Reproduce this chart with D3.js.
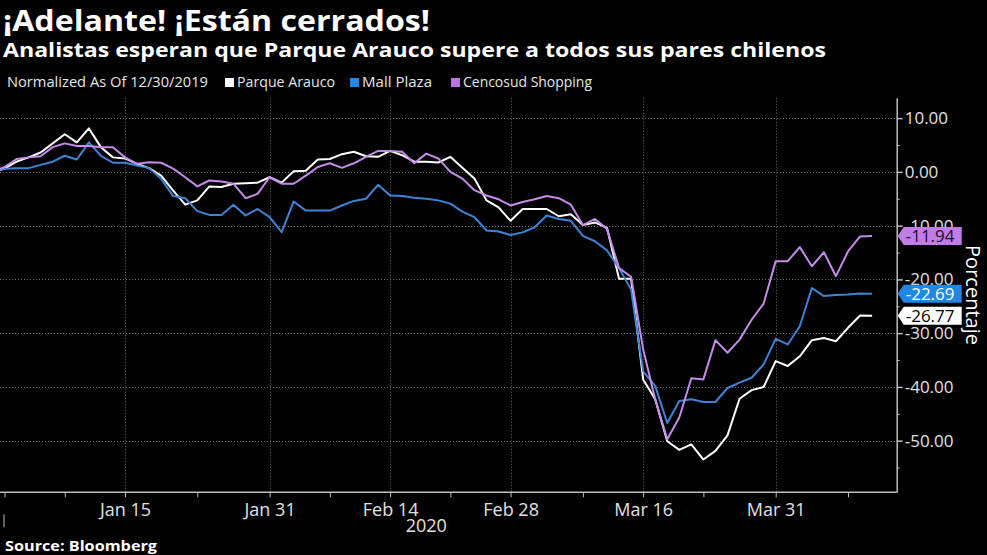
<!DOCTYPE html>
<html>
<head>
<meta charset="utf-8">
<script src="https://cdnjs.cloudflare.com/ajax/libs/d3/7.8.5/d3.min.js"></script>
<style>
  html, body { margin: 0; padding: 0; background: #000; }
  svg { display: block; font-family: "Open Sans", sans-serif; }
</style>
</head>
<body>
<div id="chart"></div>
<script>
// trading days shown on the chart (weekdays, Jan 1 closed)
const firstDay = "2019-12-30";
const lastDay = "2020-04-10";
const holidays = ["2020-01-01"];

const seriesNames = ["Parque Arauco", "Mall Plaza", "Cencosud Shopping"];

// percent change, normalized as of 12/30/2019
const parqueArauco = [
  0, 0.6, 1.9, 2.7, 3.6, 5.3, 7.0, 5.5, 8.1, 4.6,
  2.7, 2.5, 1.5, 0.7, -0.7, -3.5, -6.1, -5.3, -2.7, -2.8,
  -2.2, -2.1, -2.0, -1.0, -2.0, 0.1, 0.2, 2.3, 2.4, 3.3,
  3.75, 2.9, 2.8, 3.9, 3.1, 1.9, 1.9, 1.75, 2.8, 0.75,
  -1.25, -5.3, -6.6, -9.1, -6.9, -6.9, -6.9, -8.25, -7.9, -9.9,
  -9.4, -10.4, -19.9, -19.9, -38.6, -42.3, -50.1, -51.7, -50.7, -53.5,
  -51.9, -49.0, -42.2, -40.6, -40.0, -35.2, -36.1, -34.3, -31.3, -30.9,
  -31.5, -29.0, -26.7, -26.77
];
const mallPlaza = [
  0, 0.6, 0.7, 0.7, 1.3, 1.9, 3.0, 2.3, 5.5, 3.0,
  1.7, 1.7, 1.2, 0.7, -1.3, -4.5, -4.9, -7.3, -8.0, -8.0,
  -6.1, -8.1, -6.9, -8.4, -11.2, -5.5, -7.2, -7.2, -7.2, -6.25,
  -5.4, -5.0, -2.4, -4.4, -4.5, -4.8, -5.0, -5.3, -5.9, -7.4,
  -8.4, -10.9, -11.1, -11.75, -11.25, -10.3, -8.1, -8.75, -9.1, -11.9,
  -12.9, -14.6, -17.9, -21.9, -37.1, -39.8, -46.7, -42.6, -42.3, -42.8,
  -42.8, -40.2, -39.2, -38.3, -35.8, -31.05, -32.1, -28.7, -21.6, -23.1,
  -22.9, -22.8, -22.6, -22.69
];
const cencosudShopping = [
  0, 0.9, 2.4, 2.7, 2.9, 4.6, 5.3, 4.8, 4.8, 4.6,
  4.6, 2.7, 1.5, 1.8, 1.7, 0.6, -1.0, -2.7, -1.6, -1.8,
  -2.2, -4.9, -4.1, -1.0, -2.2, -2.2, -0.7, 0.9, 1.6, 0.75,
  1.6, 2.8, 3.9, 3.9, 3.75, 1.6, 3.4, 2.5, 0, -1.25,
  -3.4, -4.4, -5.1, -6.25, -5.6, -5.1, -4.5, -4.9, -6.1, -9.9,
  -8.75, -10.6, -17.9, -19.5, -33.0, -42.3, -49.75, -45.7, -38.4, -38.6,
  -31.3, -33.65, -31.2, -27.5, -24.5, -16.6, -16.6, -14.0, -17.55, -14.95,
  -19.4, -14.8, -12.0, -11.94
];

const xTickDates = ["2020-01-15", "2020-01-31", "2020-02-14", "2020-02-28", "2020-03-16", "2020-03-31"];
const xTickLabels = ["Jan 15", "Jan 31", "Feb 14", "Feb 28", "Mar 16", "Mar 31"];
const xMinorDates = ["2019-12-31", "2020-01-08", "2020-01-23", "2020-02-07", "2020-02-21", "2020-03-09", "2020-03-23", "2020-04-08"];
const yTicks = [10, 0, -10, -20, -30, -40, -50];
const yMinorTicks = [5, -5, -15, -25, -35, -45, -55];

const colors = ["#ffffff", "#3d84d6", "#c48be8"];
const swatch = ["#ffffff", "#2688e3", "#b873e6"];
const tagFill = ["#ffffff", "#1f88e2", "#c07de8"];
const tagText = ["#000000", "#ffffff", "#1b0f24"];

let fmt = d3.timeFormat("%Y-%m-%d");
let days = d3.timeDay.range(d3.timeParse("%Y-%m-%d")(firstDay), d3.timeDay.offset(d3.timeParse("%Y-%m-%d")(lastDay), 1))
  .filter(d => d.getDay() !== 0 && d.getDay() !== 6 && holidays.indexOf(fmt(d)) < 0)
  .map(fmt);

let series = [parqueArauco, mallPlaza, cencosudShopping];

const W = 987, H = 555;
let plot = {left: 0, right: 896.7, top: 97.7, bottom: 492.3};

let svg = d3.select("#chart").append("svg")
  .attr("width", W)
  .attr("height", H);

svg.append("rect").attr("width", W).attr("height", H).attr("fill", "#000");

let x = d3.scalePoint()
  .domain(days)
  .range([-7.55, -7.55 + (days.length - 1) * 12.05]);

let y = d3.scaleLinear()
  .domain([-59.6, 13.8])
  .range([plot.bottom, plot.top]);

// titles
svg.append("text")
  .attr("x", 3).attr("y", 31)
  .attr("fill", "#fff")
  .attr("font-size", 29).attr("font-weight", 700)
  .attr("textLength", 427).attr("lengthAdjust", "spacingAndGlyphs")
  .text("¡Adelante! ¡Están cerrados!");

svg.append("text")
  .attr("x", 3).attr("y", 56.7)
  .attr("fill", "#fff")
  .attr("font-size", 20).attr("font-weight", 700)
  .attr("textLength", 823).attr("lengthAdjust", "spacingAndGlyphs")
  .text("Analistas esperan que Parque Arauco supere a todos sus pares chilenos");

// legend
let legend = svg.append("g").attr("font-size", 15).attr("fill", "#e6e6e6");
legend.append("text").attr("x", 7).attr("y", 87.3)
  .attr("textLength", 201).attr("lengthAdjust", "spacingAndGlyphs")
  .text("Normalized As Of 12/30/2019");
let legendX = [225, 350, 451];
let legendW = [98, 70, 129];
seriesNames.forEach(function(name, i) {
  legend.append("rect")
    .attr("x", legendX[i]).attr("y", 78)
    .attr("width", 9).attr("height", 9)
    .attr("fill", swatch[i]);
  legend.append("text")
    .attr("x", legendX[i] + 12).attr("y", 87.3)
    .attr("textLength", legendW[i]).attr("lengthAdjust", "spacingAndGlyphs")
    .text(name);
});

// grid
let grid = svg.append("g")
  .attr("stroke", "#6a6a6a")
  .attr("stroke-width", 1)
  .attr("stroke-dasharray", "1,2");

grid.selectAll(".hgrid")
  .data(yTicks)
  .enter().append("line")
  .attr("class", "hgrid")
  .attr("x1", plot.left).attr("x2", plot.right)
  .attr("y1", d => Math.round(y(d)) + 0.5).attr("y2", d => Math.round(y(d)) + 0.5);

grid.selectAll(".vgrid")
  .data(xTickDates)
  .enter().append("line")
  .attr("class", "vgrid")
  .attr("x1", d => Math.round(x(d)) + 0.5).attr("x2", d => Math.round(x(d)) + 0.5)
  .attr("y1", plot.top).attr("y2", plot.bottom);

// lines
svg.append("clipPath").attr("id", "clip")
  .append("rect")
  .attr("x", plot.left).attr("y", plot.top)
  .attr("width", plot.right - plot.left).attr("height", plot.bottom - plot.top);

let line = d3.line()
  .x((d, i) => x(days[i]))
  .y(d => y(d));

svg.append("g").attr("clip-path", "url(#clip)")
  .selectAll(".series")
  .data(series)
  .enter().append("path")
  .attr("class", "series")
  .attr("d", d => line(d))
  .attr("fill", "none")
  .attr("stroke", (d, i) => colors[i])
  .attr("stroke-width", 2)
  .attr("stroke-linejoin", "round");

// x axis
let axisColor = "#bdbdbd";
let xAxis_g = svg.append("g")
  .attr("transform", "translate(0," + plot.bottom + ")");

xAxis_g.append("line")
  .attr("x1", plot.left).attr("x2", plot.right)
  .attr("y1", 0).attr("y2", 0)
  .attr("stroke", axisColor).attr("stroke-width", 1.5);

xAxis_g.append("g")
  .call(d3.axisBottom(x).tickValues(xTickDates).tickSize(5)
    .tickFormat((d, i) => xTickLabels[i]))
  .call(g => g.select(".domain").remove())
  .call(g => g.selectAll(".tick line").attr("stroke", axisColor))
  .call(g => g.selectAll(".tick text")
    .attr("fill", "#e0e0e0").attr("font-size", 18)
    .attr("font-family", "'Open Sans', sans-serif").attr("dy", "0.9em"));

xAxis_g.append("g")
  .call(d3.axisBottom(x).tickValues(xMinorDates).tickSize(5).tickFormat(""))
  .call(g => g.select(".domain").remove())
  .call(g => g.selectAll(".tick line").attr("stroke", axisColor));

xAxis_g.append("line")
  .attr("x1", 4).attr("x2", 4)
  .attr("y1", 22).attr("y2", 35)
  .attr("stroke", axisColor);

xAxis_g.append("text")
  .attr("x", x("2020-02-19")).attr("y", 39.5)
  .attr("text-anchor", "middle")
  .attr("fill", "#e0e0e0").attr("font-size", 18)
  .text("2020");

// y axis
let yAxis_g = svg.append("g")
  .attr("transform", "translate(" + plot.right + ",0)");

yAxis_g.append("g")
  .call(d3.axisRight(y).tickValues(yTicks).tickSize(6).tickSizeOuter(0)
    .tickFormat(d => d.toFixed(2)))
  .call(g => g.select(".domain").attr("stroke", axisColor).attr("stroke-width", 1.5))
  .call(g => g.selectAll(".tick line").attr("stroke", axisColor).attr("stroke-width", 1.5))
  .call(g => g.selectAll(".tick text")
    .attr("fill", "#e0e0e0").attr("font-size", 17)
    .attr("font-family", "'Open Sans', sans-serif").attr("x", 8));

yAxis_g.append("g")
  .call(d3.axisRight(y).tickValues(yMinorTicks).tickSize(3).tickFormat(""))
  .call(g => g.select(".domain").remove())
  .call(g => g.selectAll(".tick line").attr("stroke", axisColor));

svg.append("text")
  .attr("transform", "translate(966," + 295 + ") rotate(90)")
  .attr("text-anchor", "middle")
  .attr("fill", "#fff").attr("font-size", 20)
  .text("Porcentaje");

// last value tags
let tags = svg.append("g");
series.forEach(function(s, i) {
  let v = s[s.length - 1];
  let cy = y(v);
  let tag = tags.append("g").attr("transform", "translate(" + (plot.right + 1) + "," + cy + ")");
  tag.append("path")
    .attr("d", "M0,0 L6,-9 L64,-9 L64,9 L6,9 Z")
    .attr("fill", tagFill[i]);
  tag.append("text")
    .attr("x", 8).attr("y", 0).attr("dy", "0.36em")
    .attr("fill", tagText[i]).attr("font-size", 17)
    .text(v.toFixed(2));
});

// source
svg.append("text")
  .attr("x", 5).attr("y", 551)
  .attr("fill", "#fff").attr("font-size", 15).attr("font-weight", 700)
  .attr("textLength", 152).attr("lengthAdjust", "spacingAndGlyphs")
  .text("Source: Bloomberg");
</script>
</body>
</html>
